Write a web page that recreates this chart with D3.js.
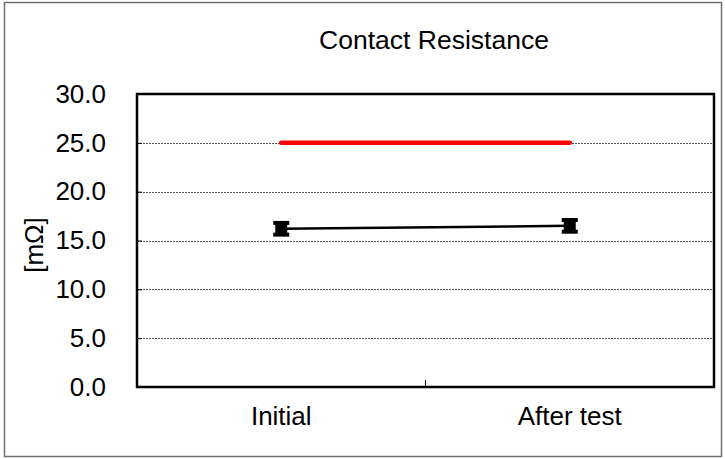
<!DOCTYPE html>
<html><head><meta charset="utf-8">
<script src="https://cdn.jsdelivr.net/npm/d3@7"></script>
<style>body{margin:0;background:#fff}svg{display:block}text{font-family:"Liberation Sans",Arial,sans-serif}</style>
</head><body><svg id="c" width="725" height="459"></svg>
<script>
const categories = ["Initial", "After test"];
const meanValues = [16.2, 16.5];
const errValues = [0.6, 0.6];
const limitValue = 25.0;
const yTicks = [0, 5, 10, 15, 20, 25, 30];
const title = "Contact Resistance";
const yLabel = "[mΩ]";

const svg = d3.select("#c");
const m = {l:137, r:714, t:94, b:387};
const x = d3.scaleBand().domain(categories).range([m.l, m.r]);
const y = d3.scaleLinear().domain([0, 30]).range([m.b, m.t]);
const cx = c => x(c) + x.bandwidth()/2;

// outer border
svg.append("rect").attr("x",4.5).attr("y",2.5).attr("width",717).attr("height",454)
  .attr("fill","none").attr("stroke","#707070").attr("stroke-width",1.5);

// gridlines
svg.append("g").selectAll("line").data(yTicks.filter(v=>v>0&&v<30)).join("line")
  .attr("x1",m.l).attr("x2",m.r).attr("y1",d=>Math.round(y(d))+0.5).attr("y2",d=>Math.round(y(d))+0.5)
  .attr("stroke","#555").attr("stroke-width",1).attr("stroke-dasharray","2,1");

// y axis
const ya = svg.append("g").attr("transform",`translate(${m.l},0)`)
  .call(d3.axisLeft(y).tickValues(yTicks).tickFormat(d3.format(".1f")).tickSizeInner(-5).tickSizeOuter(0).tickPadding(31));
ya.select(".domain").remove();
ya.selectAll("line").attr("stroke","#000");
ya.selectAll("text").attr("font-size",26).attr("fill","#000").attr("font-family","Liberation Sans, Arial, sans-serif");

// x axis
const xa = svg.append("g").attr("transform",`translate(0,${m.b})`)
  .call(d3.axisBottom(x).tickSize(0).tickPadding(20));
xa.select(".domain").remove();
xa.selectAll("text").attr("font-size",26).attr("fill","#000").attr("font-family","Liberation Sans, Arial, sans-serif");
// category divider tick
svg.append("line").attr("x1",m.l+x.bandwidth()).attr("x2",m.l+x.bandwidth())
  .attr("y1",m.b).attr("y2",m.b-7).attr("stroke","#000").attr("stroke-width",1);

// plot frame
svg.append("rect").attr("x",m.l).attr("y",m.t).attr("width",m.r-m.l).attr("height",m.b-m.t)
  .attr("fill","none").attr("stroke","#000").attr("stroke-width",2.5);

// limit line
svg.append("line").attr("x1",cx(categories[0])).attr("x2",cx(categories[1]))
  .attr("y1",y(limitValue)).attr("y2",y(limitValue))
  .attr("stroke","#ff0000").attr("stroke-width",4.5).attr("stroke-linecap","round");

// mean line
const pts = categories.map((c,i)=>({c, v:meanValues[i], e:errValues[i]}));
svg.append("path").datum(pts)
  .attr("d", d3.line().x(d=>cx(d.c)).y(d=>y(d.v)))
  .attr("fill","none").attr("stroke","#000").attr("stroke-width",2.5);

// error bars and markers
const g = svg.append("g").selectAll("g").data(pts).join("g");
g.append("line").attr("x1",d=>cx(d.c)).attr("x2",d=>cx(d.c))
  .attr("y1",d=>y(d.v+d.e)).attr("y2",d=>y(d.v-d.e)).attr("stroke","#000").attr("stroke-width",2);
g.append("line").attr("x1",d=>cx(d.c)-8).attr("x2",d=>cx(d.c)+8)
  .attr("y1",d=>y(d.v+d.e)).attr("y2",d=>y(d.v+d.e)).attr("stroke","#000").attr("stroke-width",4);
g.append("line").attr("x1",d=>cx(d.c)-8).attr("x2",d=>cx(d.c)+8)
  .attr("y1",d=>y(d.v-d.e)).attr("y2",d=>y(d.v-d.e)).attr("stroke","#000").attr("stroke-width",4);
g.append("path").attr("transform",d=>`translate(${cx(d.c)},${y(d.v)})`)
  .attr("d", d3.symbol(d3.symbolSquare, 144)()).attr("fill","#000");

// title
svg.append("text").attr("x",434).attr("y",49).attr("text-anchor","middle")
  .attr("font-size",26.5).attr("fill","#000").text(title);
// y label
svg.append("text").attr("transform","translate(43,245) rotate(-90)").attr("text-anchor","middle")
  .attr("font-size",26).attr("fill","#000").text(yLabel);
</script></body></html>
